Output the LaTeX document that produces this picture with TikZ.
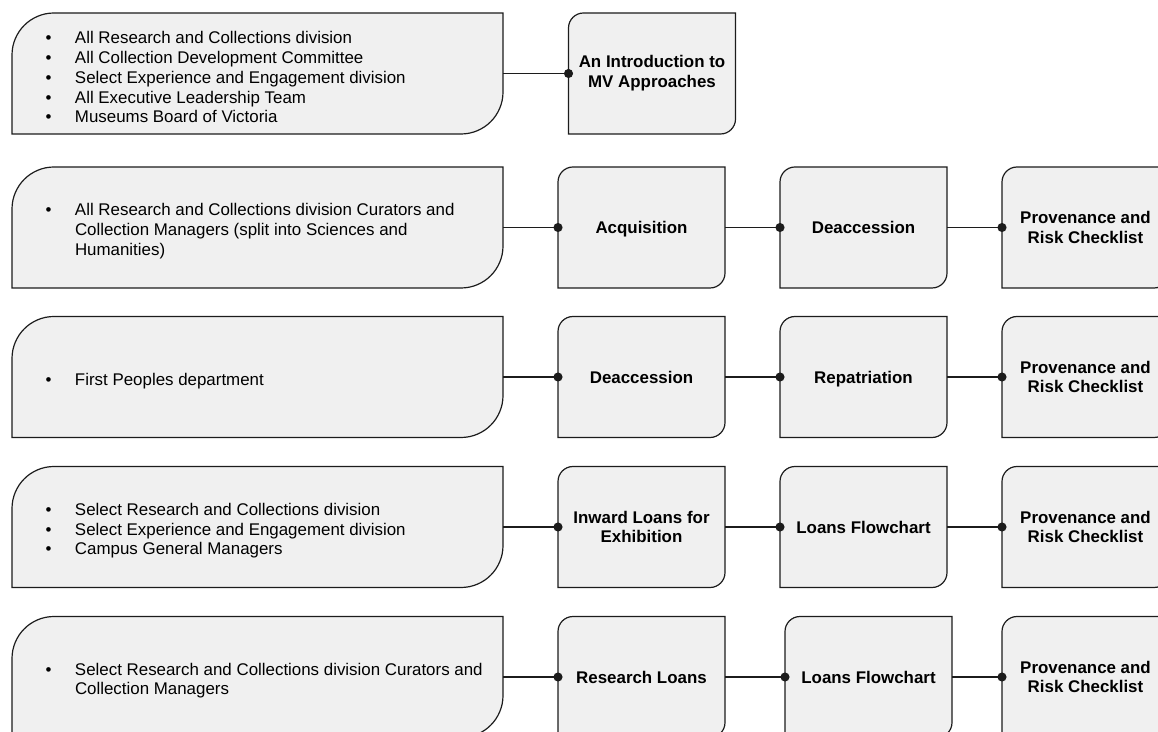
\documentclass[tikz,border=0pt]{standalone}
\usepackage{fontspec}
\setmainfont{Liberation Sans}
\usetikzlibrary{positioning, calc, arrows.meta, backgrounds}

\definecolor{boxfill}{HTML}{F0F0F0}
\definecolor{boxline}{HTML}{1C1C1C}

\newcommand{\entry}[1]{\par\noindent\leftskip=52.5pt\llap{\textbullet\hspace{23.5pt}}#1\par}

\tikzset{
    audience/.style={minimum width=491pt, minimum height=121pt, inner xsep=0pt, inner ysep=0pt, outer sep=0pt,
        text width=470pt, align=flush left, font=\fontsize{16.9}{19.75}\selectfont},
    module/.style={minimum width=167pt, minimum height=121pt, inner sep=0pt, outer sep=0pt,
        text width=160pt, align=flush center, font=\bfseries\fontsize{16.9}{19.75}\selectfont},
    outline/.style={draw=boxline, fill=boxfill, line width=1.2pt},
    link/.style={draw=boxline, line width=1.4pt, -{Circle[length=9pt, width=9pt]}, shorten >=-4.5pt},
}

\begin{document}
\begin{tikzpicture}[x=1pt, y=1pt]
                \useasboundingbox (0,0) rectangle (1158,731);
                % audiences
                \node[audience] (aud1) at (257.5,657.5) {\entry{All Research and Collections division}\entry{All Collection Development Committee}\entry{Select Experience and Engagement division}\entry{All Executive Leadership Team}\entry{Museums Board of Victoria}};
                \node[audience] (aud2) at (257.5,503.5) {\entry{All Research and Collections division Curators and Collection Managers (split into Sciences and Humanities)}};
                \node[audience] (aud3) at (257.5,354) {\entry{First Peoples department}};
                \node[audience] (aud4) at (257.5,204) {\entry{Select Research and Collections division}\entry{Select Experience and Engagement division}\entry{Campus General Managers}};
                \node[audience] (aud5) at (257.5,54) {\entry{Select Research and Collections division Curators and Collection Managers}};
                % modules
                \node[module] (intro) at (652,657.5) {An Introduction to MV Approaches};
                \node[module, text depth=0pt] (acq) at (641.5,503.5) {Acquisition};
                \node[module] (deacc) at (863.5,503.5) {Deaccession};
                \node[module] (prov2) at (1085.5,503.5) {Provenance and Risk Checklist};
                \node[module] (deaccfp) at (641.5,354) {Deaccession};
                \node[module, text depth=0pt] (repat) at (863.5,354) {Repatriation};
                \node[module] (prov3) at (1085.5,354) {Provenance and Risk Checklist};
                \node[module] (inward) at (641.5,204) {Inward Loans for Exhibition};
                \node[module] (loans4) at (863.5,204) {Loans Flowchart};
                \node[module] (prov4) at (1085.5,204) {Provenance and Risk Checklist};
                \node[module] (resloans) at (641.5,54) {Research Loans};
                \node[module] (loans5) at (868.5,54) {Loans Flowchart};
                \node[module] (prov5) at (1085.5,54) {Provenance and Risk Checklist};
                % box shapes behind the text
                \begin{scope}[on background layer]
                    \clip (0,0) rectangle (1158,731);
                    \foreach \n/\r in {aud1/42, aud2/42, aud3/42, aud4/42, aud5/42, intro/15, acq/15, deacc/15, prov2/15,
                            deaccfp/15, repat/15, prov3/15, inward/15, loans4/15, prov4/15, resloans/15, loans5/15, prov5/15}
                        \draw[outline] (\n.south west) -- ([yshift=-\r pt]\n.north west) arc[start angle=180, end angle=90, radius=\r pt]
                            -- (\n.north east) -- ([yshift=\r pt]\n.south east) arc[start angle=0, end angle=-90, radius=\r pt] -- cycle;
                \end{scope}
                % connectors
                \draw[link] (aud1.east) -- (intro.west);
                \draw[link] (aud2.east) -- (acq.west);
                \draw[link] (acq.east) -- (deacc.west);
                \draw[link] (deacc.east) -- (prov2.west);
                \draw[link] (aud3.east) -- (deaccfp.west);
                \draw[link] (deaccfp.east) -- (repat.west);
                \draw[link] (repat.east) -- (prov3.west);
                \draw[link] (aud4.east) -- (inward.west);
                \draw[link] (inward.east) -- (loans4.west);
                \draw[link] (loans4.east) -- (prov4.west);
                \draw[link] (aud5.east) -- (resloans.west);
                \draw[link] (resloans.east) -- (loans5.west);
                \draw[link] (loans5.east) -- (prov5.west);
            \end{tikzpicture}
\end{document}
